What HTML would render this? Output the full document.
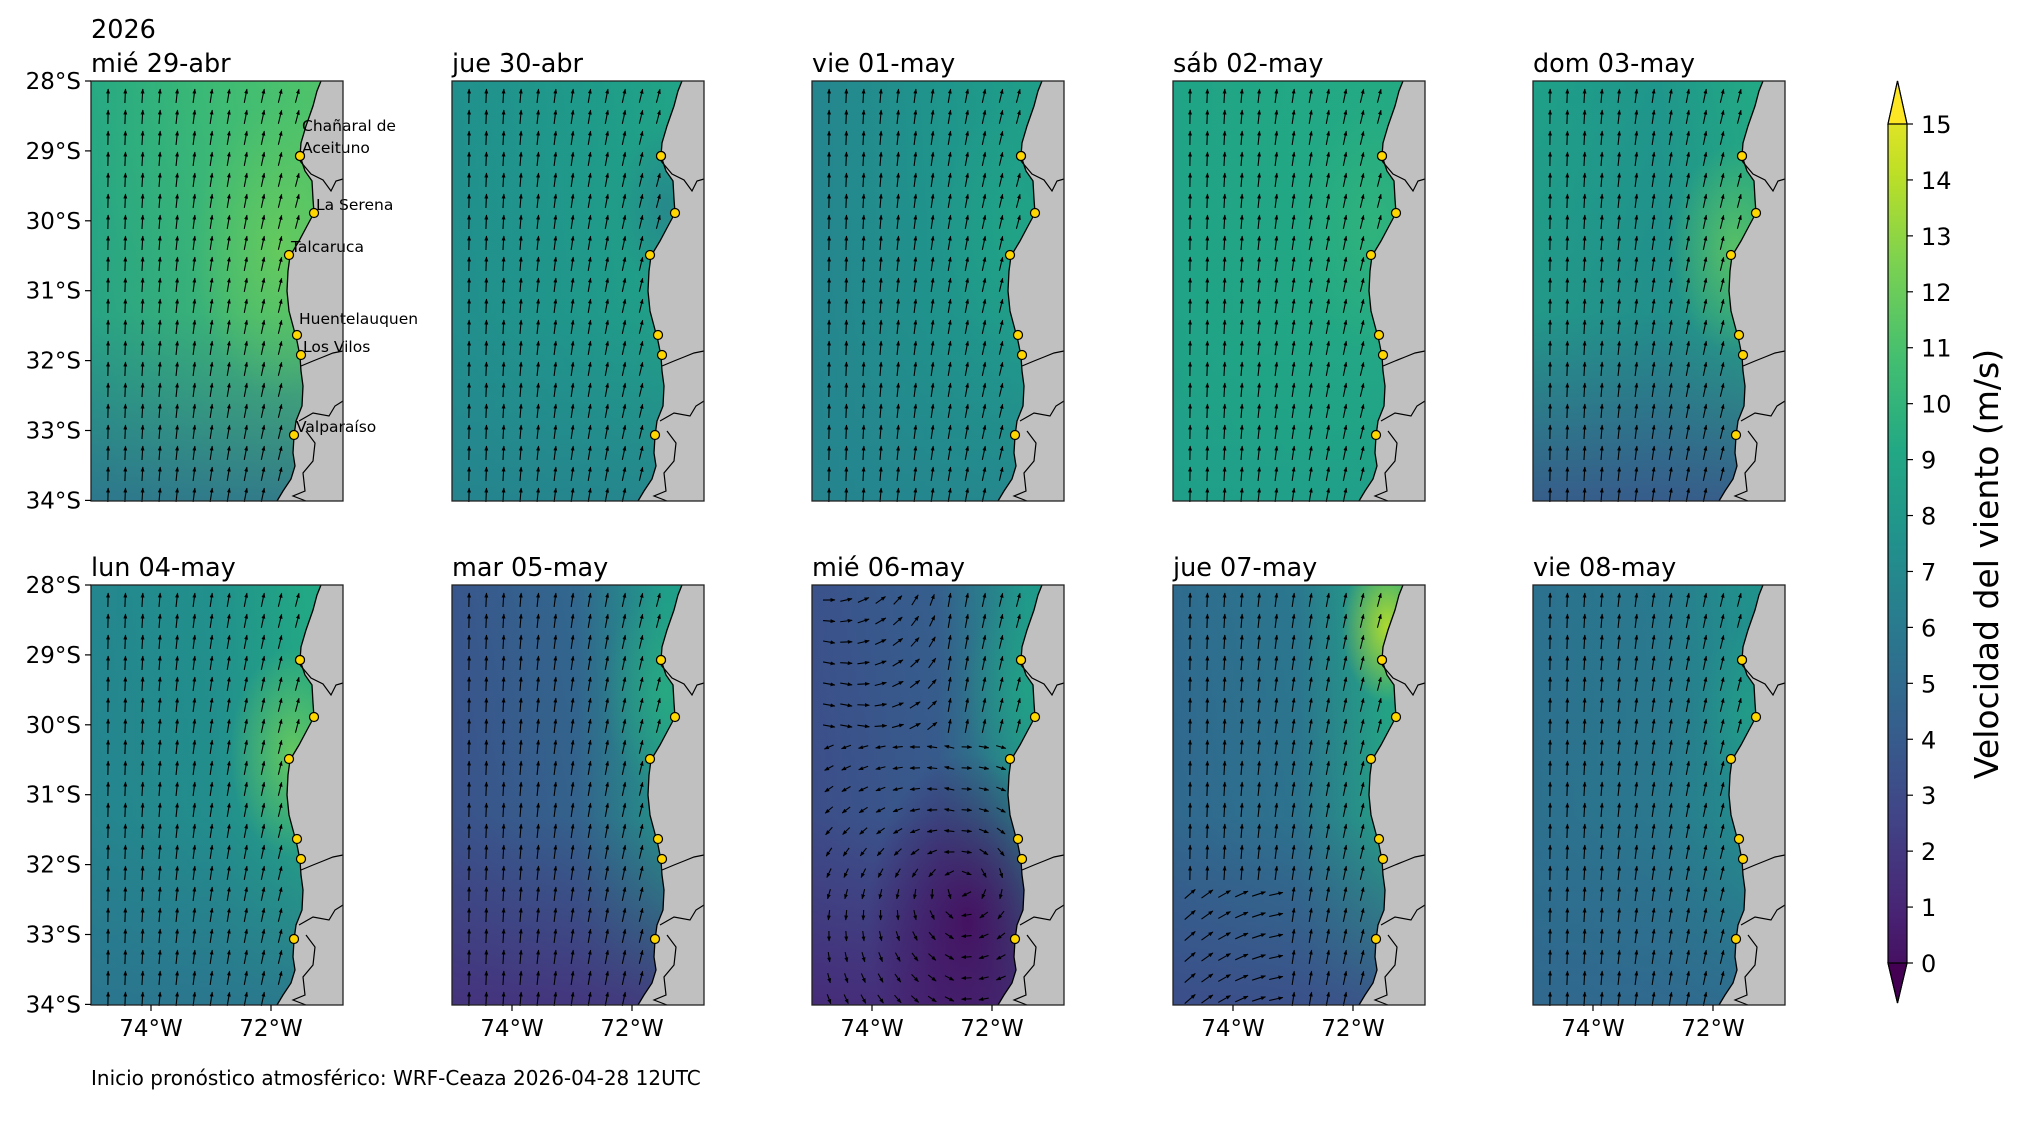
<!DOCTYPE html>
<html><head><meta charset="utf-8">
<style>html,body{margin:0;padding:0;background:#fff}svg{display:block}</style></head>
<body>
<svg id="s" width="2019" height="1128" viewBox="0 0 2019 1128" xmlns="http://www.w3.org/2000/svg" font-family="'DejaVu Sans','Liberation Sans',sans-serif">
<defs>
<marker id="ah" viewBox="0 0 10 10" refX="9" refY="5" markerWidth="4.5" markerHeight="4.5" orient="auto"><path d="M0,1 L10,5 L0,9 Z" fill="#000"/></marker>
<linearGradient id="cb" x1="0" y1="1" x2="0" y2="0">
<stop offset="0" stop-color="#440154"/><stop offset="0.1" stop-color="#482475"/><stop offset="0.2" stop-color="#414487"/><stop offset="0.3" stop-color="#355f8d"/><stop offset="0.4" stop-color="#2a788e"/><stop offset="0.5" stop-color="#21918c"/><stop offset="0.6" stop-color="#22a884"/><stop offset="0.7" stop-color="#44bf70"/><stop offset="0.8" stop-color="#7ad151"/><stop offset="0.9" stop-color="#bddf26"/><stop offset="1" stop-color="#fde725"/>
</linearGradient>
</defs>
<g id="root"></g>
</svg>
<script>
var NS="http://www.w3.org/2000/svg",root=document.getElementById('root'),defs=document.querySelector('defs');
function el(t,a,p){var e=document.createElementNS(NS,t);for(var k in a)e.setAttribute(k,a[k]);(p||root).appendChild(e);return e;}
function tx(x,y,s,sz,anc,p){var e=el('text',{x:x,y:y,'font-size':sz,'text-anchor':anc||'start',fill:'#000'},p);e.textContent=s;return e;}
var W=252,H=420;
var coast=[[230,0],[226,10],[222,25],[215,45],[210,62],[209,75],[214,90],[221,100],[222,118],[223,132],[216,145],[208,160],[199,175],[197,190],[196,210],[198,230],[202,245],[206,260],[209,275],[210,290],[212,305],[211,325],[205,340],[203,355],[202,372],[204,385],[200,398],[192,410],[186,420]];
var stations=[[209,75,'Chañaral de',-22],[209,75,'Aceituno',0],[223,132,'La Serena',0],[198,174,'Talcaruca',0],[206,254,'Huentelauquen',-8],[210,274,'Los Vilos',0],[203,354,'Valparaíso',0]];
var borders=[[[209,80],[220,93],[232,99],[240,110],[245,100],[252,98]],[[210,285],[222,280],[232,276],[242,272],[252,270]],[[208,340],[222,332],[238,335],[244,325],[252,320]],[[215,350],[224,362],[222,380],[212,392],[214,410],[202,415],[215,420]]];
function coastX(y){for(var i=1;i<coast.length;i++){if(coast[i][1]>=y){var a=coast[i-1],b=coast[i],t=(y-a[1])/(b[1]-a[1]||1);return a[0]+t*(b[0]-a[0]);}}return 186;}
var P=[
 {t:'mié 29-abr',x:91,y:81,bg:['#27a983','#3dbb74','#4ec36b'],bot:'#2e6f8e',glow:[0.75,0.4,0.35,'#6cce59',0.8]},
 {t:'jue 30-abr',x:452,y:81,bg:['#21908d','#1f9a8a','#20a386'],bot:'#26828e',glow:[0.85,0.3,0.2,'#2a788e',0.6]},
 {t:'vie 01-may',x:812,y:81,bg:['#25858e','#1f958b','#1f9e89'],bot:'#25848e',glow:[0.8,0.35,0.3,'#22a884',0.6]},
 {t:'sáb 02-may',x:1173,y:81,bg:['#20a386','#22a884','#24aa83'],bot:'#1f9e89',glow:[0.8,0.35,0.3,'#35b779',0.7]},
 {t:'dom 03-may',x:1533,y:81,bg:['#1fa088','#1f968b','#22a884'],bot:'#3b528b',glow:[0.8,0.4,0.25,'#6ece58',0.7]},
 {t:'lun 04-may',x:91,y:585,bg:['#24868e','#21918c','#22a884'],bot:'#2c728e',glow:[0.8,0.4,0.25,'#73d056',0.8]},
 {t:'mar 05-may',x:452,y:585,bg:['#39568c','#31688e','#1f9e89'],bot:'#472d7b',glow:[0.85,0.25,0.25,'#2ab07f',0.7]},
 {t:'mié 06-may',x:812,y:585,bg:['#3b528b','#355f8d','#1f998a'],bot:'#482576',glow:[0.85,0.25,0.25,'#22a884',0.6],swirl:1},
 {t:'jue 07-may',x:1173,y:585,bg:['#2f6b8e','#2a788e','#22a884'],bot:'#3e4989',glow:[0.85,0.1,0.18,'#bddf26',0.9]},
 {t:'vie 08-may',x:1533,y:585,bg:['#2c718e','#297a8e','#21918c'],bot:'#31668e',glow:[0.85,0.3,0.2,'#22a884',0.5]}
];
P.forEach(function(p,i){
 var g=el('g',{transform:'translate('+p.x+','+p.y+')'});
 var lg=el('linearGradient',{id:'h'+i,x1:0,y1:0,x2:1,y2:0},defs);
 el('stop',{offset:0,'stop-color':p.bg[0]},lg);el('stop',{offset:0.5,'stop-color':p.bg[1]},lg);el('stop',{offset:0.85,'stop-color':p.bg[2]},lg);
 var vg=el('linearGradient',{id:'v'+i,x1:0,y1:0,x2:0,y2:1},defs);
 el('stop',{offset:0,'stop-color':p.bot,'stop-opacity':0},vg);el('stop',{offset:0.55,'stop-color':p.bot,'stop-opacity':0.1},vg);el('stop',{offset:1,'stop-color':p.bot,'stop-opacity':0.85},vg);
 var G=p.glow,rg=el('radialGradient',{id:'r'+i,cx:G[0],cy:G[1],r:G[2]},defs);
 el('stop',{offset:0,'stop-color':G[3],'stop-opacity':G[4]},rg);el('stop',{offset:1,'stop-color':G[3],'stop-opacity':0},rg);
 el('rect',{x:0,y:0,width:W,height:H,fill:'url(#h'+i+')'},g);
 el('rect',{x:0,y:0,width:W,height:H,fill:'url(#v'+i+')'},g);
 el('rect',{x:0,y:0,width:W,height:H,fill:'url(#r'+i+')'},g);
 if(p.swirl){var sg=el('radialGradient',{id:'sw',cx:0.62,cy:0.8,r:0.4},defs);
  el('stop',{offset:0,'stop-color':'#46085c','stop-opacity':0.85},sg);el('stop',{offset:1,'stop-color':'#440154','stop-opacity':0},sg);
  el('rect',{x:0,y:0,width:W,height:H,fill:'url(#sw)'},g);}
 for(var r=0;r<20;r++){for(var c=0;c<14;c++){
  var ax=17+c*17.2,ay=15+r*21;
  if(ax>coastX(ay)-6)continue;
  var ang=-90+(ax/W)*18,L=14;
  if(p.swirl){
    if(ay<150&&ax<130){ang=-80+(130-ax)/1.5+ay/4; if(ang>10)ang=10;L=12;}
    else if(ay>=150){var dx=ax-150,dy=ay-300;ang=Math.atan2(dy,dx)*180/Math.PI+(ax<140?-70:90);L=10;}
  }
  if(i==8&&ay>300&&ax<120){ang=-40+(ax-20)/3;}
  var rad=ang*Math.PI/180,hx=Math.cos(rad)*L/2,hy=Math.sin(rad)*L/2;
  el('line',{x1:ax-hx,y1:ay-hy,x2:ax+hx,y2:ay+hy,stroke:'#000','stroke-width':1.1,'marker-end':'url(#ah)'},g);
 }}
 var d='M'+coast.map(function(q){return q[0]+','+q[1]}).join(' L')+' L'+W+','+H+' L'+W+',0 Z';
 el('path',{d:d,fill:'#c0c0c0',stroke:'none'},g);
 el('polyline',{points:coast.map(function(q){return q.join(',')}).join(' '),fill:'none',stroke:'#000','stroke-width':1.3},g);
 borders.forEach(function(b){el('polyline',{points:b.map(function(q){return q.join(',')}).join(' '),fill:'none',stroke:'#000','stroke-width':1.2},g);});
 stations.forEach(function(s){el('circle',{cx:s[0],cy:s[1],r:4.5,fill:'#ffd700',stroke:'#000','stroke-width':1.2},g);});
 if(i==0){stations.forEach(function(s){tx(s[0]+2,s[1]-3+s[3],s[2],15.5,'start',g);});}
 el('rect',{x:0,y:0,width:W,height:H,fill:'none',stroke:'#222','stroke-width':1.3},g);
 tx(0,-9,p.t,25.5,'start',g);
 if(i==0)tx(0,-43,'2026',25.5,'start',g);
 if(p.x==91){for(var k=0;k<7;k++){var yy=k*69.9;el('line',{x1:-6,y1:yy,x2:0,y2:yy,stroke:'#000','stroke-width':1.2},g);
   tx(-10,yy+8,(28+k)+'°S',23,'end',g);}}
 if(p.y==585){[[60,'74°W'],[180,'72°W']].forEach(function(q){el('line',{x1:q[0],y1:H,x2:q[0],y2:H+6,stroke:'#000','stroke-width':1.2},g);tx(q[0],H+31,q[1],23,'middle',g);});}
});
el('path',{d:'M1888,124 L1897.5,81 L1907,124 L1907,963 L1897.5,1003 L1888,963 Z',fill:'url(#cb)',stroke:'#000','stroke-width':1.2});
el('path',{d:'M1888,124 L1897.5,81 L1907,124 Z',fill:'#fde725',stroke:'#000','stroke-width':1.2});
el('path',{d:'M1888,963 L1897.5,1003 L1907,963 Z',fill:'#440154',stroke:'#000','stroke-width':1.2});
for(var v=0;v<=15;v++){var y=963-v*(839/15);el('line',{x1:1907,y1:y,x2:1913,y2:y,stroke:'#000','stroke-width':1.2});tx(1921,y+9,String(v),24);}
var lab=tx(0,0,'Velocidad del viento (m/s)',33,'middle');lab.setAttribute('transform','translate(1998,564) rotate(-90)');
tx(91,1085,'Inicio pronóstico atmosférico: WRF-Ceaza 2026-04-28 12UTC',20);
</script>
</body></html>
